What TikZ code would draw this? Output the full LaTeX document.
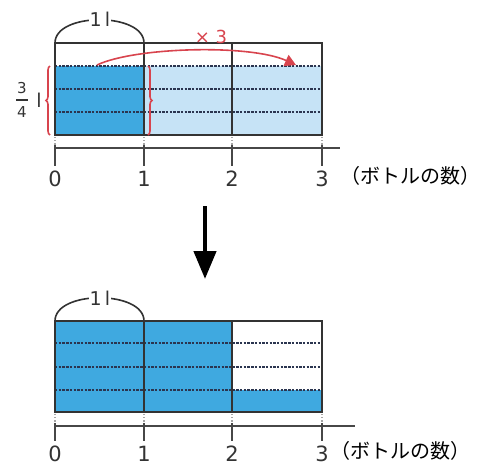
\documentclass[tikz,border=0pt]{standalone}
\usepackage{fontspec}
\setmainfont{DejaVu Sans}
\newfontfamily\jp{Noto Sans CJK JP}
\usetikzlibrary{arrows.meta,decorations.pathreplacing}
\definecolor{dblue}{HTML}{3FA9E0}
\definecolor{lblue}{HTML}{C6E3F6}
\definecolor{frame}{HTML}{333333}
\definecolor{dash}{HTML}{2B3550}
\definecolor{myred}{HTML}{D8444E}
\tikzset{
  framestyle/.style={draw=frame,line width=2.2pt},
  dashline/.style={draw=dash,line width=2pt,dash pattern=on 2.4pt off 1.3pt},
  tickdot/.style={draw=gray!70,line width=1.2pt,dotted},
  ticksolid/.style={draw=frame!90,line width=2.2pt},
  axisstyle/.style={draw=frame!90,line width=2.2pt},
  numlabel/.style={font=\fontsize{21}{21}\selectfont,text=frame,inner sep=1pt},
  jplabel/.style={font=\jp\fontsize{20}{20}\selectfont,text=black,inner sep=0pt},
  unitlabel/.style={font=\fontsize{19}{19}\selectfont,text=frame,fill=white,inner sep=1pt},
  arcstyle/.style={draw=frame,line width=1.6pt},
  redline/.style={draw=myred,line width=1.6pt},
}
\begin{document}
\begin{tikzpicture}[x=1pt,y=-1pt]
\useasboundingbox (0,0) rectangle (484,467);
% ---------- top diagram ----------
\fill[lblue] (144,66) rectangle (322,135);
\fill[dblue] (55,66) rectangle (144,135);
\foreach \yy in {66,89,112} \draw[dashline] (55,\yy) -- (322,\yy);
\draw[framestyle] (55,43) rectangle (322,135);
\draw[framestyle] (144,43) -- (144,135);
\draw[framestyle] (232,43) -- (232,135);
\foreach \xx in {55,144,232,322} {
  \draw[tickdot] (\xx,137) -- (\xx,145);
  \draw[ticksolid] (\xx,145) -- (\xx,166);
}
\draw[axisstyle] (55,148) -- (340,148);
\node[numlabel] (t0) at (55,179) {0};
\node[numlabel] (t1) at (144,179) {1};
\node[numlabel] (t2) at (232,179) {2};
\node[numlabel] (t3) at (322,179) {3};
\node[jplabel] (tjp) at (410,176) {（ボトルの数）};
% arc 1 l
\draw[arcstyle] (55,43) .. controls (55,12) and (144,12) .. (144,43);
\node[unitlabel] (tunit) at (100,19) {1\,l};
% red arrow x3
\coordinate (ra) at (97,65);
\coordinate (rb) at (296,65);
\draw[redline,-{Triangle[length=11pt,width=12pt]}] (ra) .. controls (135,47) and (250,44) .. (rb);
\node[font=\fontsize{18}{18}\selectfont,text=myred] (times) at (211,37) {× 3};
% braces
\draw[redline,decorate,decoration={brace,amplitude=4pt}] (50,135) -- (50,66);
\draw[redline,decorate,decoration={brace,amplitude=4pt}] (148,66) -- (148,135);
\node[font=\fontsize{15}{15}\selectfont,text=frame] (fn) at (22,88) {3};
\node[font=\fontsize{15}{15}\selectfont,text=frame] (fd) at (22,112) {4};
\draw[frame,line width=1.3pt] (16,100) -- (28,100);
\node[font=\fontsize{19}{19}\selectfont,text=frame] (fl) at (39,100) {l};
% ---------- big arrow ----------
\coordinate (aa) at (205,206);
\coordinate (ab) at (205,279);
\draw[black,line width=4.5pt,-{Triangle[length=28pt,width=22pt]}] (aa) -- (ab);
% ---------- bottom diagram ----------
\fill[dblue] (55,321) rectangle (232,412);
\fill[dblue] (232,390) rectangle (322,412);
\foreach \yy in {343,367,390} \draw[dashline] (55,\yy) -- (322,\yy);
\draw[framestyle] (55,321) rectangle (322,412);
\draw[framestyle] (144,321) -- (144,412);
\draw[framestyle] (232,321) -- (232,412);
\foreach \xx in {55,144,232,322} {
  \draw[tickdot] (\xx,414) -- (\xx,423);
  \draw[ticksolid] (\xx,423) -- (\xx,441);
}
\draw[axisstyle] (55,426) -- (355,426);
\node[numlabel] (b0) at (55,454) {0};
\node[numlabel] (b1) at (144,454) {1};
\node[numlabel] (b2) at (232,454) {2};
\node[numlabel] (b3) at (322,454) {3};
\node[jplabel] (bjp) at (400,451) {（ボトルの数）};
\draw[arcstyle] (55,321) .. controls (55,290) and (144,290) .. (144,321);
\node[unitlabel] (bunit) at (100,298) {1\,l};
\end{tikzpicture}
\end{document}
